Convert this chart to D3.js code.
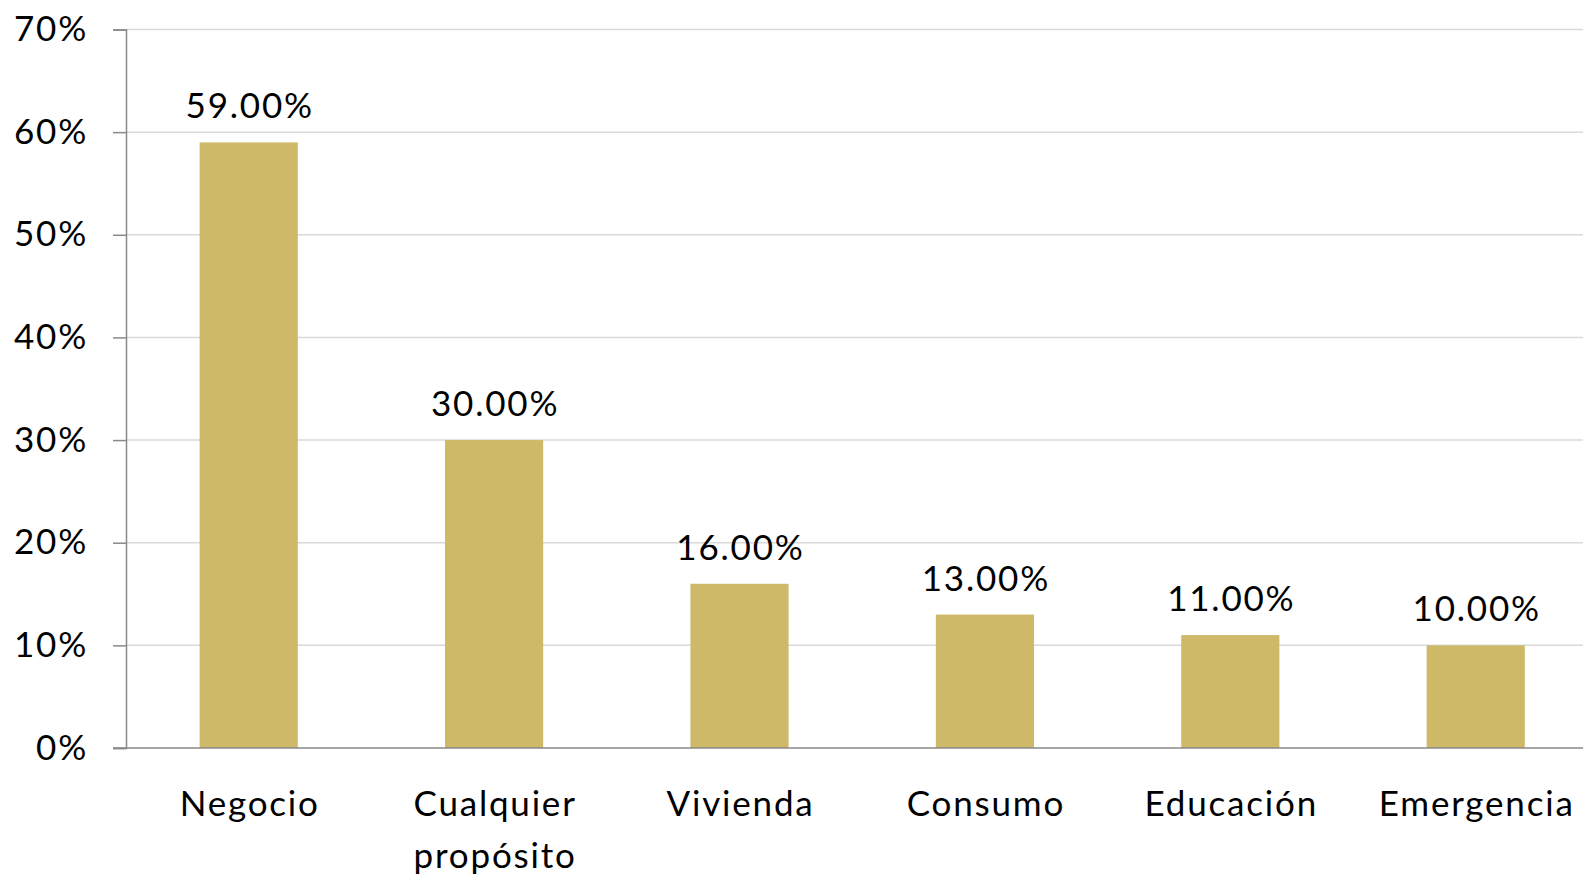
<!DOCTYPE html>
<html>
<head>
<meta charset="utf-8">
<script src="https://cdn.jsdelivr.net/npm/d3@7"></script>
<style>
  body { margin: 0; background: #fff; }
  text { font-family: Lato, "Open Sans", sans-serif; fill: #000; letter-spacing: 1.8px; }
</style>
</head>
<body>
<script>
var categories = ["Negocio", "Cualquier propósito", "Vivienda", "Consumo", "Educación", "Emergencia"]
var values = [0.59, 0.30, 0.16, 0.13, 0.11, 0.10]
var yTicks = [0, 0.1, 0.2, 0.3, 0.4, 0.5, 0.6, 0.7]

var screen = {width: 1583, height: 876}
var margin = {left: 126, top: 29.5, bottom: 128}

var svg = d3.select("body")
            .append("svg")
            .attr("width", screen.width)
            .attr("height", screen.height);

var x = d3.scaleBand()
          .domain(categories)
          .range([margin.left, margin.left + 6 * 245.4])
          .paddingInner(0.6)
          .paddingOuter(0.3);

var y = d3.scaleLinear()
          .domain([0, 0.7])
          .range([screen.height - margin.bottom, margin.top]);

// gridlines
svg.append("g")
   .selectAll("line")
   .data(yTicks.slice(1))
   .enter()
   .append("line")
   .attr("x1", margin.left)
   .attr("x2", screen.width)
   .attr("y1", function(d) { return y(d); })
   .attr("y2", function(d) { return y(d); })
   .attr("stroke", "#d9d9d9")
   .attr("stroke-width", 1.5);

// bars
svg.append("g")
   .selectAll("rect")
   .data(values)
   .enter()
   .append("rect")
   .attr("x", function(d, i) { return x(categories[i]); })
   .attr("width", x.bandwidth())
   .attr("y", function(d) { return y(d); })
   .attr("height", function(d) { return y(0) - y(d); })
   .attr("fill", "#ceb968");

// data labels
svg.append("g")
   .selectAll("text")
   .data(values)
   .enter()
   .append("text")
   .attr("x", function(d, i) { return x(categories[i]) + x.bandwidth() / 2 + 1; })
   .attr("y", function(d) { return y(d) - 24; })
   .attr("text-anchor", "middle")
   .style("font-size", "35px")
   .text(function(d) { return (d * 100).toFixed(2) + "%"; });

// y axis
var yAxis = d3.axisLeft(y)
              .tickValues(yTicks)
              .tickSize(13)
              .tickPadding(25)
              .tickFormat(d3.format(".0%"));

var gy = svg.append("g")
            .attr("transform", "translate(" + margin.left + ",0)")
            .call(yAxis);
gy.select(".domain").attr("stroke", "#898989").attr("stroke-width", 1.5);
gy.selectAll(".tick line").attr("stroke", "#898989").attr("stroke-width", 1.5);
gy.selectAll(".tick text")
  .style("font-size", "35px")
  .style("font-family", "Lato, 'Open Sans', sans-serif")
  .attr("fill", "#000");

// x axis baseline
svg.append("line")
   .attr("x1", margin.left - 13)
   .attr("x2", screen.width)
   .attr("y1", y(0))
   .attr("y2", y(0))
   .attr("stroke", "#898989")
   .attr("stroke-width", 1.5);

// category labels
var labels = svg.append("g")
                .selectAll("text")
                .data(categories)
                .enter()
                .append("text")
                .attr("text-anchor", "middle")
                .style("font-size", "35px")
                .attr("x", function(d) { return x(d) + x.bandwidth() / 2 + 1; })
                .attr("y", 816);

labels.each(function(d) {
  var t = d3.select(this);
  var words = d === "Cualquier propósito" ? ["Cualquier", "propósito"] : [d];
  words.forEach(function(w, i) {
    t.append("tspan")
     .attr("x", t.attr("x"))
     .attr("dy", i === 0 ? 0 : 52)
     .text(w);
  });
});
</script>
</body>
</html>
